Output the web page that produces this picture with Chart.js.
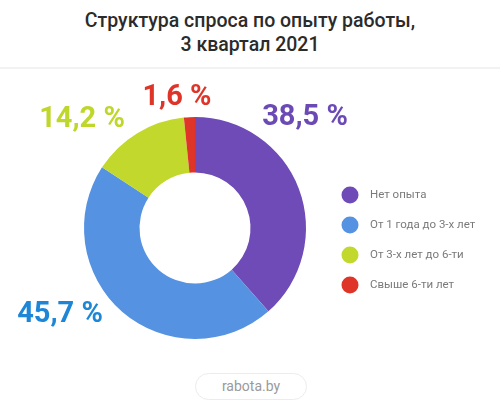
<!DOCTYPE html>
<html><head><meta charset="utf-8">
<script src="https://cdn.jsdelivr.net/npm/chart.js@4"></script>
<style>
body{margin:0;width:500px;height:407px;background:#fff;font-family:Roboto,"Open Sans",sans-serif;overflow:hidden;position:relative}
#t{position:absolute;top:9px;left:0;width:500px;text-align:center;font-size:19.5px;line-height:24px;color:#2b2b2b;font-weight:500}
#sep{position:absolute;top:67px;left:0;width:500px;height:2px;background:#f2f2f2}
#f{position:absolute;left:195px;top:373px;width:110px;height:25px;border:1.5px solid #ececec;border-radius:14px;text-align:center;line-height:25px;color:#9a9a9a;font-size:14px}
canvas{position:absolute;left:0;top:0}
</style></head><body>
<div id="t">Структура спроса по опыту работы,<br>3 квартал 2021</div>
<div id="sep"></div>
<div id="f">rabota.by</div>
<canvas id="c" width="500" height="407"></canvas>
<script>
const categories=["Нет опыта","От 1 года до 3-х лет","От 3-х лет до 6-ти","Свыше 6-ти лет"];
const values=[38.5,45.7,14.2,1.6];
const valueLabels=["38,5 %","45,7 %","14,2 %","1,6 %"];
const colors=["#6e4bb6","#5592e2","#c2d82c","#df3529"];
const labelColors=["#6b4ab5","#1d86d6","#bfd62a","#df3529"];
const labelPos=[[110,-110],[-135,87],[-113,-108],[-18,-130]];
const plug={id:'p',afterDraw(ch){
 const c=ch.ctx;const a=ch.getDatasetMeta(0).data[0];
 c.save();c.textAlign='center';c.textBaseline='middle';
 c.font='bold 29px Roboto, sans-serif';
 valueLabels.forEach((t,i)=>{c.fillStyle=labelColors[i];c.fillText(t,a.x+labelPos[i][0],a.y+labelPos[i][1]);});
 c.textAlign='left';c.font='11.5px Roboto, sans-serif';
 categories.forEach((t,i)=>{const y=195+i*30;c.fillStyle=colors[i];c.beginPath();c.arc(350,y,8.5,0,Math.PI*2);c.fill();c.fillStyle='#7a7a7a';c.fillText(t,370,y);});
 c.restore();}};
new Chart(document.getElementById('c'),{type:'doughnut',
data:{labels:categories,datasets:[{data:values,backgroundColor:colors,borderWidth:0}]},
options:{responsive:false,animation:false,cutout:'50%',
layout:{padding:{left:84,right:194,top:117,bottom:68}},
plugins:{legend:{display:false},tooltip:{enabled:false}}},plugins:[plug]});
</script></body></html>
